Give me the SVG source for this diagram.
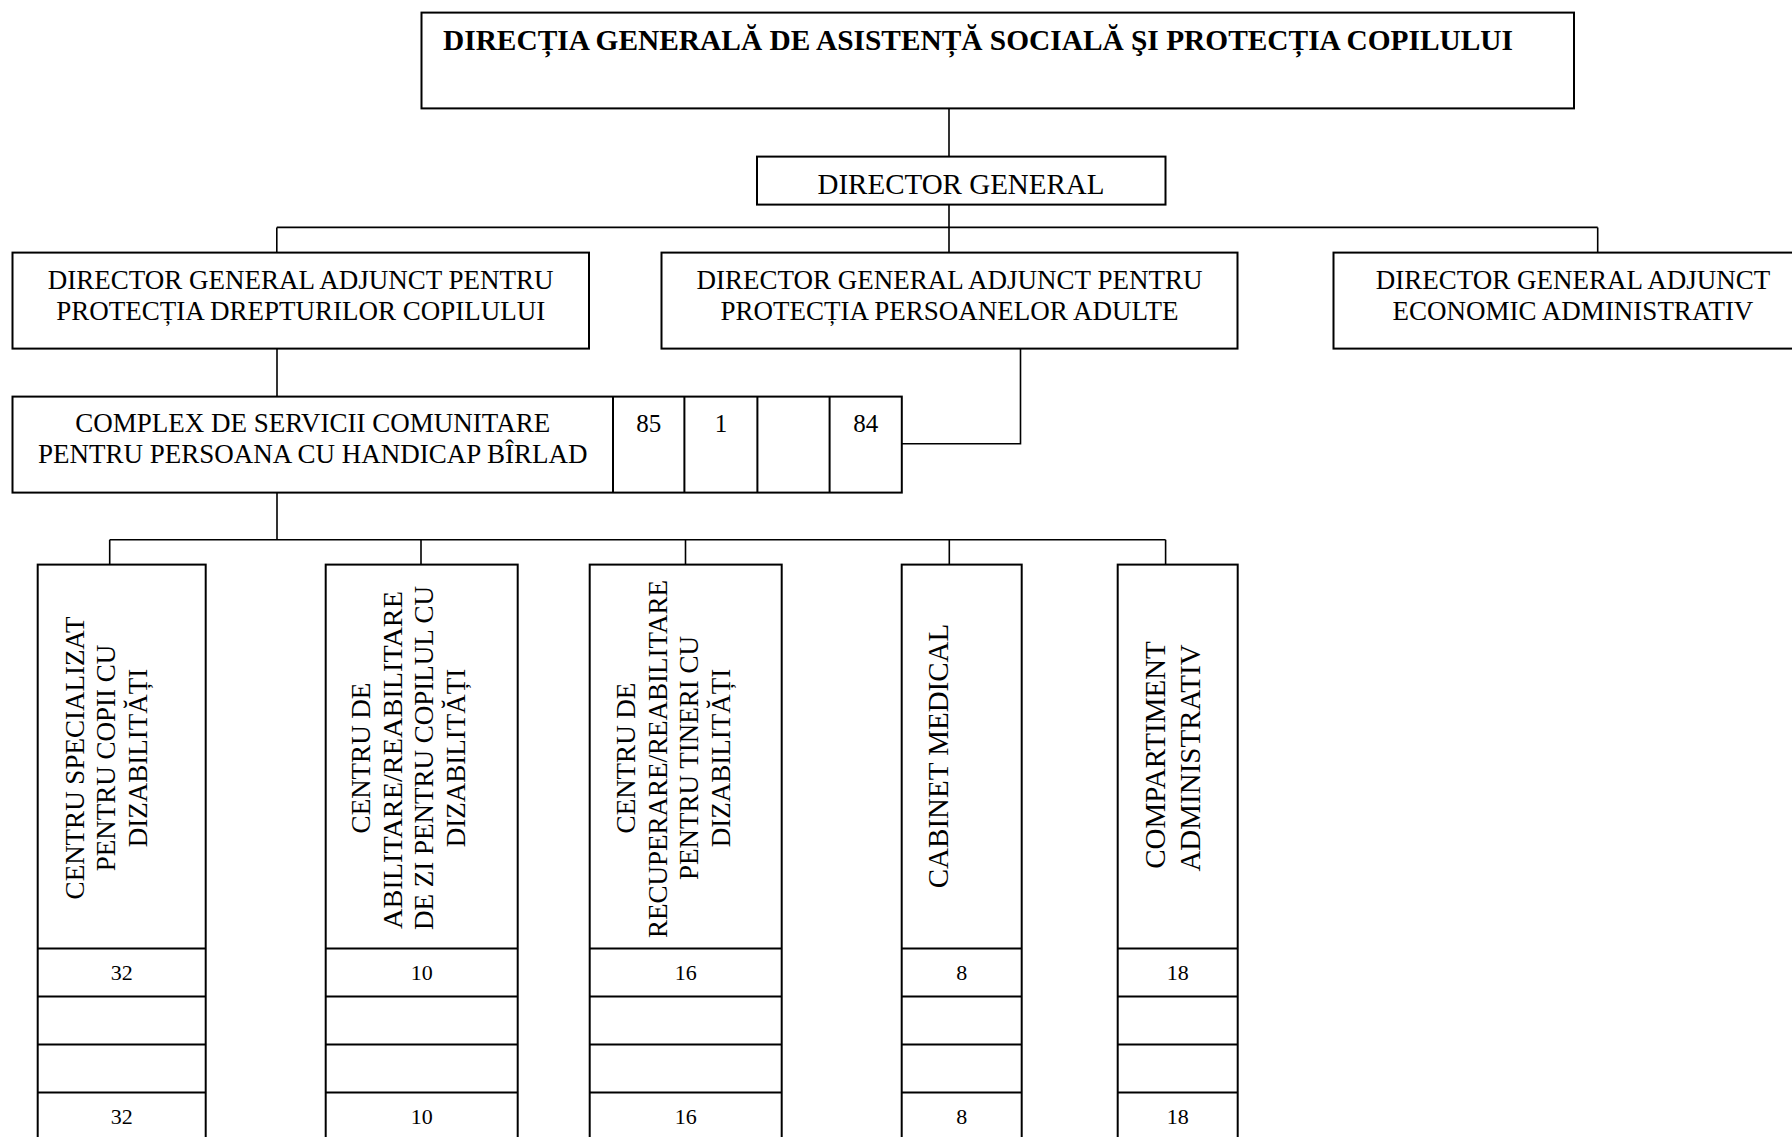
<svg xmlns="http://www.w3.org/2000/svg" width="1792" height="1137" viewBox="0 0 1792 1137">
<style>
.box{fill:#fff;stroke:#000;stroke-width:2}
.ln{fill:none;stroke:#000;stroke-width:1.6}
.t{font-family:"Liberation Serif","Times New Roman",serif;fill:#000}
.m{text-anchor:middle}
.f27{font-size:27px}
.f29{font-size:29px}
.num{font-size:22px;text-anchor:middle}
.cnum{font-size:25px;text-anchor:middle}
</style>
<rect width="1792" height="1137" fill="#fff"/>
<g id="connectors">
<path class="ln" d="M949,108.5V156.6M949,204.6V252.6M276.8,227.4H1597.7M276.8,227.4V252.6M1597.7,227.4V252.6"/>
<path class="ln" d="M277,348.6V396.6"/>
<path class="ln" d="M1020.5,348.6V443.8H901.8"/>
<path class="ln" d="M277,492.6V539.7M109.7,539.7H1165.6M109.7,539.7V564.6M421,539.7V564.6M685.5,539.7V564.6M949.3,539.7V564.6M1165.6,539.7V564.6"/>
</g>
<g id="node-dgaspc">
<rect class="box" x="421.5" y="12.6" width="1152.5" height="95.8"/>
<text class="t" x="443" y="50" font-size="29" font-weight="bold" textLength="1070" lengthAdjust="spacingAndGlyphs">DIRECȚIA GENERALĂ DE ASISTENȚĂ SOCIALĂ ŞI PROTECȚIA COPILULUI</text>
</g>
<g id="node-director-general">
<rect class="box" x="757" y="156.6" width="408.5" height="48"/>
<text class="t m f29" x="961" y="193.5">DIRECTOR GENERAL</text>
</g>
<g id="node-adjunct-copil">
<rect class="box" x="12.5" y="252.6" width="576.5" height="96"/>
<text class="t m f27" x="300.7" y="289">DIRECTOR GENERAL ADJUNCT PENTRU</text>
<text class="t m f27" x="300.7" y="320">PROTECȚIA DREPTURILOR COPILULUI</text>
</g>
<g id="node-adjunct-adulte">
<rect class="box" x="661.5" y="252.6" width="576" height="96"/>
<text class="t m f27" x="949.5" y="289">DIRECTOR GENERAL ADJUNCT PENTRU</text>
<text class="t m f27" x="949.5" y="320">PROTECȚIA PERSOANELOR ADULTE</text>
</g>
<g id="node-adjunct-economic">
<rect class="box" x="1333.5" y="252.6" width="480" height="96"/>
<text class="t m f27" x="1573" y="289">DIRECTOR GENERAL ADJUNCT</text>
<text class="t m f27" x="1573" y="320">ECONOMIC ADMINISTRATIV</text>
</g>
<g id="node-complex">
<rect class="box" x="12.5" y="396.6" width="889.3" height="96"/>
<path class="ln" style="stroke-width:2" d="M613,396.6V492.6M684.4,396.6V492.6M757.4,396.6V492.6M829.6,396.6V492.6"/>
<text class="t m f27" x="312.7" y="432">COMPLEX DE SERVICII COMUNITARE</text>
<text class="t m f27" x="312.7" y="463">PENTRU PERSOANA CU HANDICAP BÎRLAD</text>
<text class="t cnum" x="648.7" y="432">85</text>
<text class="t cnum" x="720.9" y="432">1</text>
<text class="t cnum" x="865.7" y="432">84</text>
</g>
<g id="node-centru-specializat">
<rect class="box" x="37.7" y="564.6" width="168" height="590"/>
<path class="ln" style="stroke-width:2" d="M37.7,948.6H205.7M37.7,996.6H205.7M37.7,1044.6H205.7M37.7,1092.6H205.7"/>
<text class="t m f27" transform="translate(83.5,758) rotate(-90)">CENTRU SPECIALIZAT</text>
<text class="t m f27" transform="translate(115,758) rotate(-90)">PENTRU COPII CU</text>
<text class="t m f27" transform="translate(146.5,758) rotate(-90)">DIZABILITĂȚI</text>
<text class="t num" x="121.7" y="980">32</text>
<text class="t num" x="121.7" y="1124">32</text>
</g>
<g id="node-centru-abilitare">
<rect class="box" x="325.7" y="564.6" width="192" height="590"/>
<path class="ln" style="stroke-width:2" d="M325.7,948.6H517.7M325.7,996.6H517.7M325.7,1044.6H517.7M325.7,1092.6H517.7"/>
<text class="t m f27" transform="translate(370,758) rotate(-90)">CENTRU DE</text>
<text class="t m f27" transform="translate(401.7,760) rotate(-90)" textLength="338" lengthAdjust="spacingAndGlyphs">ABILITARE/REABILITARE</text>
<text class="t m f27" transform="translate(433.3,758) rotate(-90)">DE ZI PENTRU COPILUL CU</text>
<text class="t m f27" transform="translate(465,758) rotate(-90)">DIZABILITĂȚI</text>
<text class="t num" x="421.7" y="980">10</text>
<text class="t num" x="421.7" y="1124">10</text>
</g>
<g id="node-centru-recuperare">
<rect class="box" x="589.7" y="564.6" width="192" height="590"/>
<path class="ln" style="stroke-width:2" d="M589.7,948.6H781.7M589.7,996.6H781.7M589.7,1044.6H781.7M589.7,1092.6H781.7"/>
<text class="t m f27" transform="translate(635,758) rotate(-90)">CENTRU DE</text>
<text class="t m f27" transform="translate(666.7,759) rotate(-90)">RECUPERARE/REABILITARE</text>
<text class="t m f27" transform="translate(698.3,758) rotate(-90)">PENTRU TINERI CU</text>
<text class="t m f27" transform="translate(729.5,758) rotate(-90)">DIZABILITĂȚI</text>
<text class="t num" x="685.7" y="980">16</text>
<text class="t num" x="685.7" y="1124">16</text>
</g>
<g id="node-cabinet-medical">
<rect class="box" x="901.7" y="564.6" width="120" height="590"/>
<path class="ln" style="stroke-width:2" d="M901.7,948.6H1021.7M901.7,996.6H1021.7M901.7,1044.6H1021.7M901.7,1092.6H1021.7"/>
<text class="t m f29" transform="translate(948.3,756) rotate(-90)">CABINET MEDICAL</text>
<text class="t num" x="961.7" y="980">8</text>
<text class="t num" x="961.7" y="1124">8</text>
</g>
<g id="node-compartiment-administrativ">
<rect class="box" x="1117.7" y="564.6" width="120" height="590"/>
<path class="ln" style="stroke-width:2" d="M1117.7,948.6H1237.7M1117.7,996.6H1237.7M1117.7,1044.6H1237.7M1117.7,1092.6H1237.7"/>
<text class="t m f29" transform="translate(1165,755) rotate(-90)">COMPARTIMENT</text>
<text class="t m f29" transform="translate(1200,758) rotate(-90)">ADMINISTRATIV</text>
<text class="t num" x="1177.7" y="980">18</text>
<text class="t num" x="1177.7" y="1124">18</text>
</g>
</svg>
